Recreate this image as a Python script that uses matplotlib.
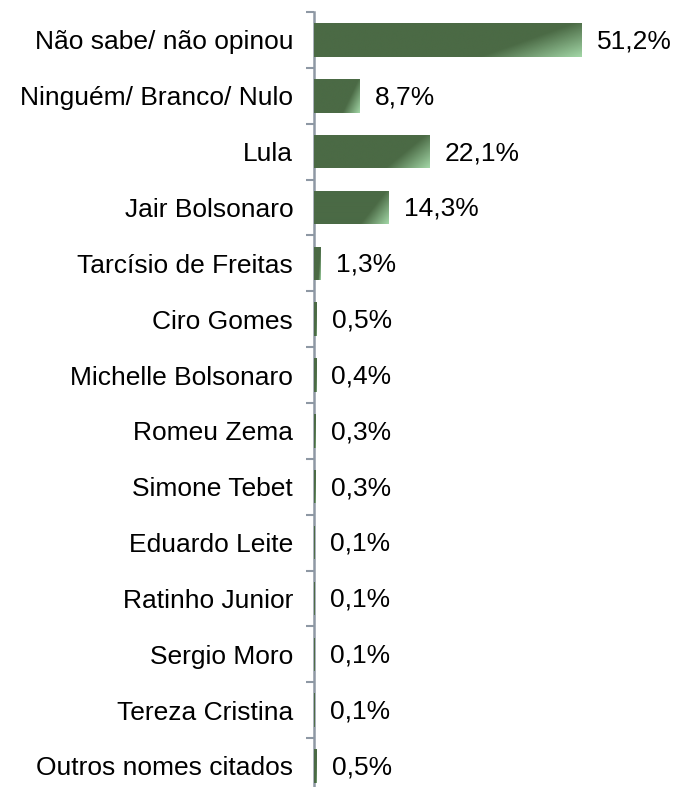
import numpy as np
import matplotlib.pyplot as plt
from matplotlib.colors import LinearSegmentedColormap

plt.rcParams['font.family'] = ['Liberation Sans', 'DejaVu Sans']

categorias = ["Não sabe/ não opinou", "Ninguém/ Branco/ Nulo", "Lula", "Jair Bolsonaro",
              "Tarcísio de Freitas", "Ciro Gomes", "Michelle Bolsonaro", "Romeu Zema",
              "Simone Tebet", "Eduardo Leite", "Ratinho Junior", "Sergio Moro",
              "Tereza Cristina", "Outros nomes citados"]
valores = [51.2, 8.7, 22.1, 14.3, 1.3, 0.5, 0.4, 0.3, 0.3, 0.1, 0.1, 0.1, 0.1, 0.5]
rotulos = ["51,2%", "8,7%", "22,1%", "14,3%", "1,3%", "0,5%", "0,4%", "0,3%",
           "0,3%", "0,1%", "0,1%", "0,1%", "0,1%", "0,5%"]

W, H = 678, 787
fig = plt.figure(figsize=(W / 100, H / 100), dpi=100)
# eixo começa em x=314px, linhas a cada ~55.85px, primeira borda em y=12
passo = 55.85
topo = 12
base = topo + passo * len(categorias)
ax = fig.add_axes([314 / W, (H - base) / H, (W - 314) / W, (base - topo) / H])

n = len(categorias)
y = np.arange(n)
ax.set_ylim(n - 0.5, -0.5)
ax.set_xlim(0, (W - 314) / 5.23)

cmap = LinearSegmentedColormap.from_list("verde", [(0, "#4b6a45"), (0.72, "#4b6a45"), (1, "#a2d6a6")])
gx, gy = np.meshgrid(np.linspace(0, 1, 300), np.linspace(0, 1, 60))

barras = ax.barh(y, valores, height=0.6, color="#4b6a45", linewidth=0)
for b in barras:
    x0, y0 = b.get_x(), b.get_y()
    w, h = b.get_width(), b.get_height()
    # gradiente diagonal, mais claro no canto inferior direito
    g = gx + 0.35 * gy
    g = (g - g.min()) / (g.max() - g.min())
    im = ax.imshow(g, cmap=cmap, extent=[x0, x0 + w, y0 + h, y0], aspect="auto",
                   origin="upper", zorder=3)
    im.set_clip_path(b)

for i, (v, t) in enumerate(zip(valores, rotulos)):
    ax.annotate(t, (v, i), xytext=(11, -1), textcoords="offset points",
                va="center", ha="left", fontsize=19)

ax.set_yticks(y)
ax.set_yticklabels(categorias, fontsize=19)
ax.set_yticks(np.arange(n + 1) - 0.5, minor=True)
ax.tick_params(axis="y", which="major", length=0, pad=15)
ax.tick_params(axis="y", which="minor", length=6, width=1.5, color="#8e98a4")
ax.set_xticks([])

for s in ["top", "right", "bottom"]:
    ax.spines[s].set_visible(False)
ax.spines["left"].set_color("#8e98a4")
ax.spines["left"].set_linewidth(1.8)

fig.savefig("out.png", dpi=100)
